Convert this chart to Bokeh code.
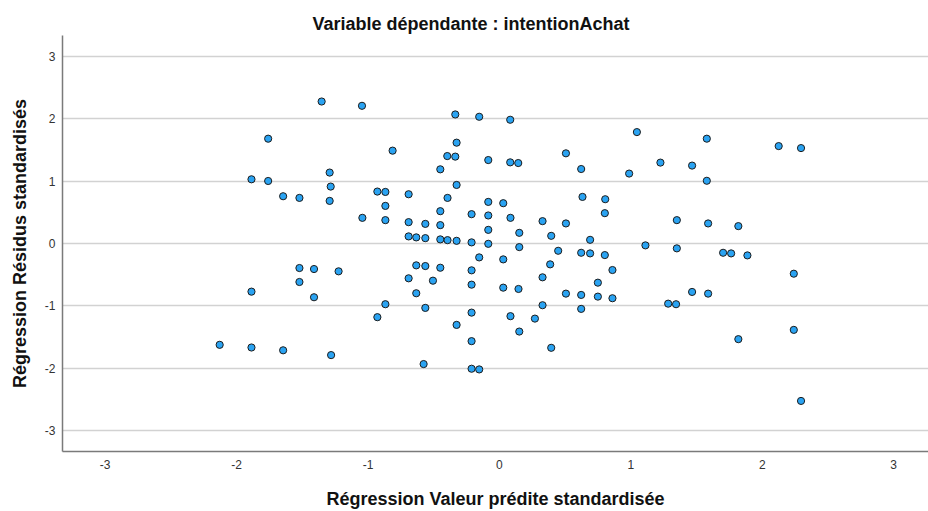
from bokeh.plotting import figure
from bokeh.models import FixedTicker, Range1d, ColumnDataSource, Title
from bokeh.embed import file_html
from bokeh.resources import INLINE

title_text = "Variable dépendante : intentionAchat"
x_label = "Régression Valeur prédite standardisée"
y_label = "Régression Résidus standardisés"
tick_values = [-3, -2, -1, 0, 1, 2, 3]
tick_labels = ["-3", "-2", "-1", "0", "1", "2", "3"]

predicted = [-1.353, -1.046, -1.760, -0.813, -0.336, -0.154, 0.082, -0.326, -0.397, -0.336,
             -0.450, -0.085, 0.082, 0.143, 0.506, 0.622, -1.292, 1.046, 1.578, 2.125,
             2.295, 1.225, 1.466, 0.987, 1.578, -1.887, -1.760, -1.646, -1.522, -1.522,
             -1.522, -1.887, -2.129, -1.887, -1.646, -1.284, -0.326, -1.292, -0.929, -0.868,
             -0.691, -0.868, -1.043, -0.868, -0.395, -0.085, 0.029, 0.632, 0.805, -0.450,
             -0.212, -0.085, 0.084, 0.328, 0.506, 0.802, -0.691, -0.564, -0.450, -0.085,
             0.151, 0.394, -0.691, -0.633, -0.564, -0.450, -0.395, -0.326, -0.212, -0.085,
             0.151, 0.690, 0.447, 0.622, 0.690, 0.802, -0.154, 0.029, 0.386, -1.411,
             -1.224, -0.633, -0.564, -0.450, -0.212, -0.691, -0.506, -0.212, 0.029, 0.145,
             0.328, 0.749, -1.411, -0.633, 0.506, 0.622, 0.749, -0.868, -0.564, 0.328,
             0.622, -0.929, -0.212, 0.084, 0.270, -0.326, 0.151, -0.212, 0.394, 1.350,
             1.588, 1.818, 1.111, 1.350, 1.702, 1.763, 1.887, 0.860, 2.240, 1.466,
             1.588, 0.860, 1.284, 1.344, 1.818, 2.240, -1.281, -0.577, -0.212, -0.154,
             2.295]

residuals = [2.280, 2.211, 1.683, 1.491, 2.072, 2.035, 1.987, 1.619, 1.404, 1.395,
             1.191, 1.340, 1.303, 1.292, 1.448, 1.196, 1.139, 1.789, 1.683, 1.564,
             1.532, 1.299, 1.251, 1.123, 1.007, 1.031, 1.004, 0.759, 0.732, -0.394,
             -0.618, -0.773, -1.627, -1.670, -1.715, 0.914, 0.940, 0.684, 0.834, 0.828,
             0.791, 0.604, 0.412, 0.375, 0.732, 0.668, 0.647, 0.748, 0.711, 0.519,
             0.471, 0.450, 0.412, 0.359, 0.322, 0.487, 0.343, 0.315, 0.295, 0.219,
             0.171, 0.123, 0.114, 0.098, 0.086, 0.066, 0.054, 0.043, 0.018, -0.005,
             -0.058, 0.059, -0.117, -0.149, -0.159, -0.186, -0.223, -0.255, -0.335, -0.410,
             -0.447, -0.351, -0.362, -0.389, -0.431, -0.559, -0.597, -0.661, -0.709, -0.730,
             -0.543, -0.629, -0.863, -0.799, -0.805, -0.826, -0.853, -0.975, -1.034, -0.991,
             -1.050, -1.183, -1.110, -1.167, -1.206, -1.307, -1.414, -1.568, -1.675, 0.375,
             0.322, 0.279, -0.030, -0.078, -0.149, -0.159, -0.191, -0.426, -0.485, -0.778,
             -0.805, -0.879, -0.966, -0.975, -1.536, -1.387, -1.792, -1.936, -2.011, -2.022,
             -2.528]

assert len(predicted) == len(residuals)

FONT = "Liberation Sans"

p = figure(width=928, height=511, output_backend="svg", toolbar_location=None,
           x_range=Range1d(-3.325, 3.265), y_range=Range1d(-3.34, 3.34),
           min_border_left=62, min_border_right=0, min_border_top=35, min_border_bottom=59)
p.title = None
p.outline_line_color = None
p.background_fill_color = "white"
p.border_fill_color = "white"

p.add_layout(Title(text=title_text, text_font=FONT, text_font_size="18px",
                   text_font_style="bold", text_color="#111111",
                   align="left", offset=250, standoff=3), "above")

src = ColumnDataSource(dict(x=predicted, y=residuals))
p.scatter("x", "y", source=src, size=7.2, fill_color="#2aa3f2",
          line_color="#1c1c1c", line_width=1)

overrides = {v: s for v, s in zip(tick_values, tick_labels)}
for ax in (p.xaxis[0], p.yaxis[0]):
    ax.ticker = FixedTicker(ticks=tick_values)
    ax.major_label_overrides = overrides
    ax.major_tick_line_color = None
    ax.minor_tick_line_color = None
    ax.major_tick_out = 0
    ax.major_tick_in = 0
    ax.minor_tick_out = 0
    ax.minor_tick_in = 0
    ax.axis_line_color = "#7a7a7a"
    ax.axis_line_width = 1.5
    ax.major_label_text_font = FONT
    ax.major_label_text_font_size = "12px"
    ax.major_label_text_color = "#333333"
    ax.axis_label_text_font = FONT
    ax.axis_label_text_font_size = "18px"
    ax.axis_label_text_font_style = "bold"
    ax.axis_label_text_color = "#111111"

p.yaxis.axis_label = y_label
p.yaxis.major_label_standoff = 7
p.yaxis.axis_label_standoff = 12

p.xaxis.axis_label = x_label
p.xaxis.major_label_standoff = 8
p.xaxis.axis_label_standoff = 17

p.xgrid.grid_line_color = None
p.ygrid.ticker = FixedTicker(ticks=tick_values)
p.ygrid.grid_line_color = "#d2d2d2"
p.ygrid.grid_line_width = 1.5

open("out.html", "w").write(file_html(p, INLINE))
